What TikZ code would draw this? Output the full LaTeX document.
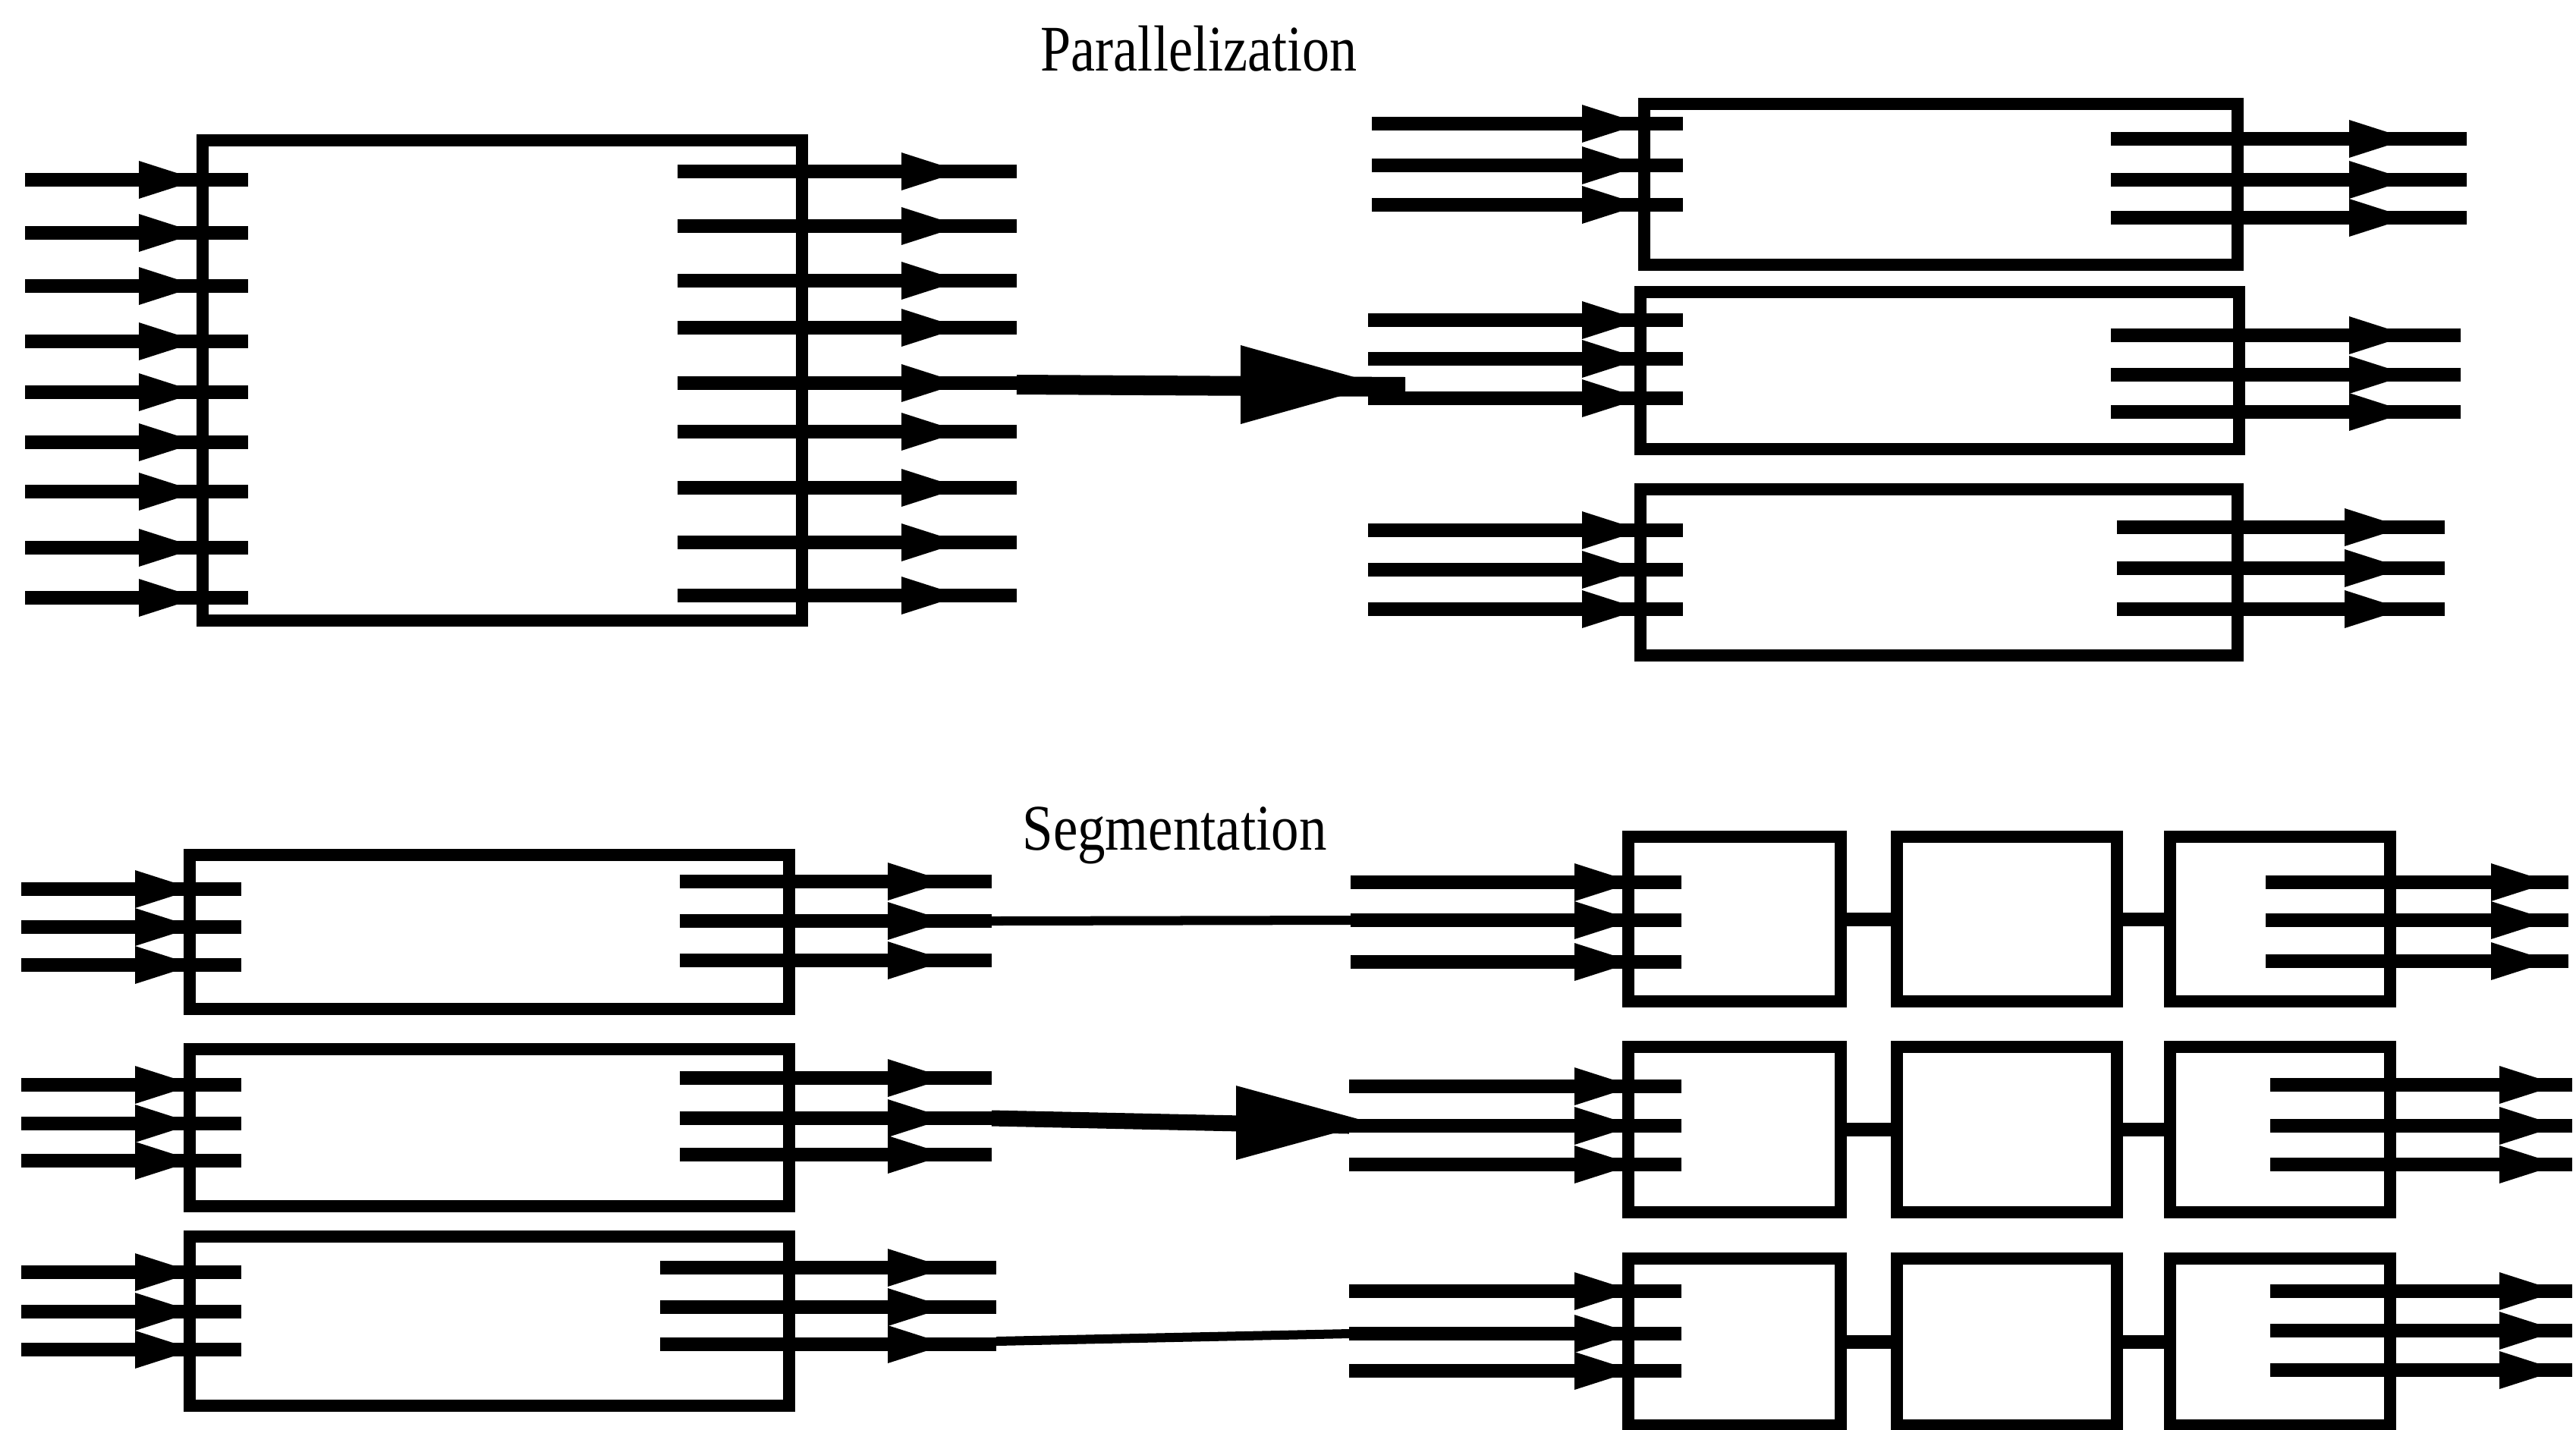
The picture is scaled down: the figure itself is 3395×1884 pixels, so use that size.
\documentclass[tikz,border=0pt]{standalone}
\usepackage{fontspec}
\setmainfont{Liberation Serif}
\usetikzlibrary{fit}

\tikzset{
  blk/.style={draw, line width=0.16cm, inner sep=0pt, fit={#1}},
  pinline/.style={line width=0.18cm},
  thinline/.style={line width=0.12cm},
  title/.style={anchor=base, inner sep=0pt, font=\fontsize{24.4}{28}\selectfont},
}

% line with an arrowhead on it: x from, x to, y, x of the arrowhead base
\newcommand{\pin}[4]{%
  \draw[pinline] (#1,#3) -- (#2,#3);
  \fill (#4,#3-25) -- (#4,#3+25) -- (#4+78,#3) -- cycle;
}

\begin{document}
\begin{tikzpicture}[x=0.01cm, y=-0.01cm]
    \useasboundingbox (0,0) rectangle (3395,1884);

    \node[title] (ptitle) at (1580,93) {\scalebox{0.84}[1]{Parallelization}};
    \node[title] (stitle) at (1548,1120) {\scalebox{0.85}[1]{Segmentation}};

    \node[blk={(267,185) (1057,818)}] (big) {};
    \foreach \y in {237,307,377,450,517,583,648,722,788}
      {\pin{33}{327}{\y}{183}}
    \foreach \y in {226,298,370,432,505,569,643,715,785}
      {\pin{893}{1340}{\y}{1188}}

    \coordinate (pout) at (1340,507);
    \coordinate (pin) at (1852,510);
    \draw[line width=0.26cm] (pout) -- (pin);
    \fill (1635,455) -- (1635,559) -- (1820,507) -- cycle;

    \node[blk={(2167,137) (2949,349)}] (q1) {};
    \node[blk={(2162,385) (2951,592)}] (q2) {};
    \node[blk={(2162,645) (2949,864)}] (q3) {};

    \foreach \y in {163,218,270}
      {\pin{1808}{2218}{\y}{2085}}
    \foreach \y in {183,237,287}
      {\pin{2782}{3251}{\y}{3096}}
    \foreach \y in {422,473,525}
      {\pin{1803}{2218}{\y}{2085}}
    \foreach \y in {442,494,543}
      {\pin{2782}{3243}{\y}{3096}}
    \foreach \y in {699,751,803}
      {\pin{1803}{2218}{\y}{2085}}
    \foreach \y in {695,749,803}
      {\pin{2790}{3222}{\y}{3090}}

    \node[blk={(250,1127) (1040,1330)}] (sa) {};
    \node[blk={(250,1383) (1040,1590)}] (sb) {};
    \node[blk={(250,1630) (1040,1853)}] (sc) {};

    \foreach \y in {1172,1222,1272,1430,1481,1530,1677,1729,1779}
      {\pin{28}{318}{\y}{178}}
    \foreach \y in {1162,1214,1266,1421,1474,1522}
      {\pin{896}{1307}{\y}{1170}}
    \foreach \y in {1671,1723,1772}
      {\pin{870}{1313}{\y}{1170}}

    \foreach \r/\t/\b in {1/1103/1320,2/1380/1598,3/1659/1879}{
      \node[blk={(2146,\t) (2426,\b)}] (r\r a) {};
      \node[blk={(2500,\t) (2790,\b)}] (r\r b) {};
      \node[blk={(2860,\t) (3150,\b)}] (r\r c) {};
      \draw[line width=0.18cm] (r\r a.east) -- (r\r b.west);
      \draw[line width=0.18cm] (r\r b.east) -- (r\r c.west);
    }

    \foreach \y in {1163,1213,1268}
      {\pin{1780}{2216}{\y}{2075}}
    \foreach \y in {1163,1213,1267}
      {\pin{2986}{3385}{\y}{3283}}
    \foreach \y in {1432,1484,1535}
      {\pin{1778}{2216}{\y}{2075}}
    \foreach \y in {1430,1484,1535}
      {\pin{2992}{3390}{\y}{3294}}
    \foreach \y in {1702,1758,1807}
      {\pin{1778}{2216}{\y}{2075}}
    \foreach \y in {1702,1754,1806}
      {\pin{2992}{3390}{\y}{3294}}

    \coordinate (aout) at (1307,1214);
    \coordinate (r1in) at (1780,1213);
    \draw[thinline] (aout) -- (r1in);

    \coordinate (bout) at (1307,1474);
    \coordinate (r2in) at (1778,1484);
    \draw[line width=0.21cm] (bout) -- (r2in);
    \fill (1629,1431) -- (1629,1529) -- (1808,1480) -- cycle;

    \coordinate (cout) at (1313,1768);
    \coordinate (r3in) at (1778,1758);
    \draw[thinline] (cout) -- (r3in);
  \end{tikzpicture}
\end{document}
